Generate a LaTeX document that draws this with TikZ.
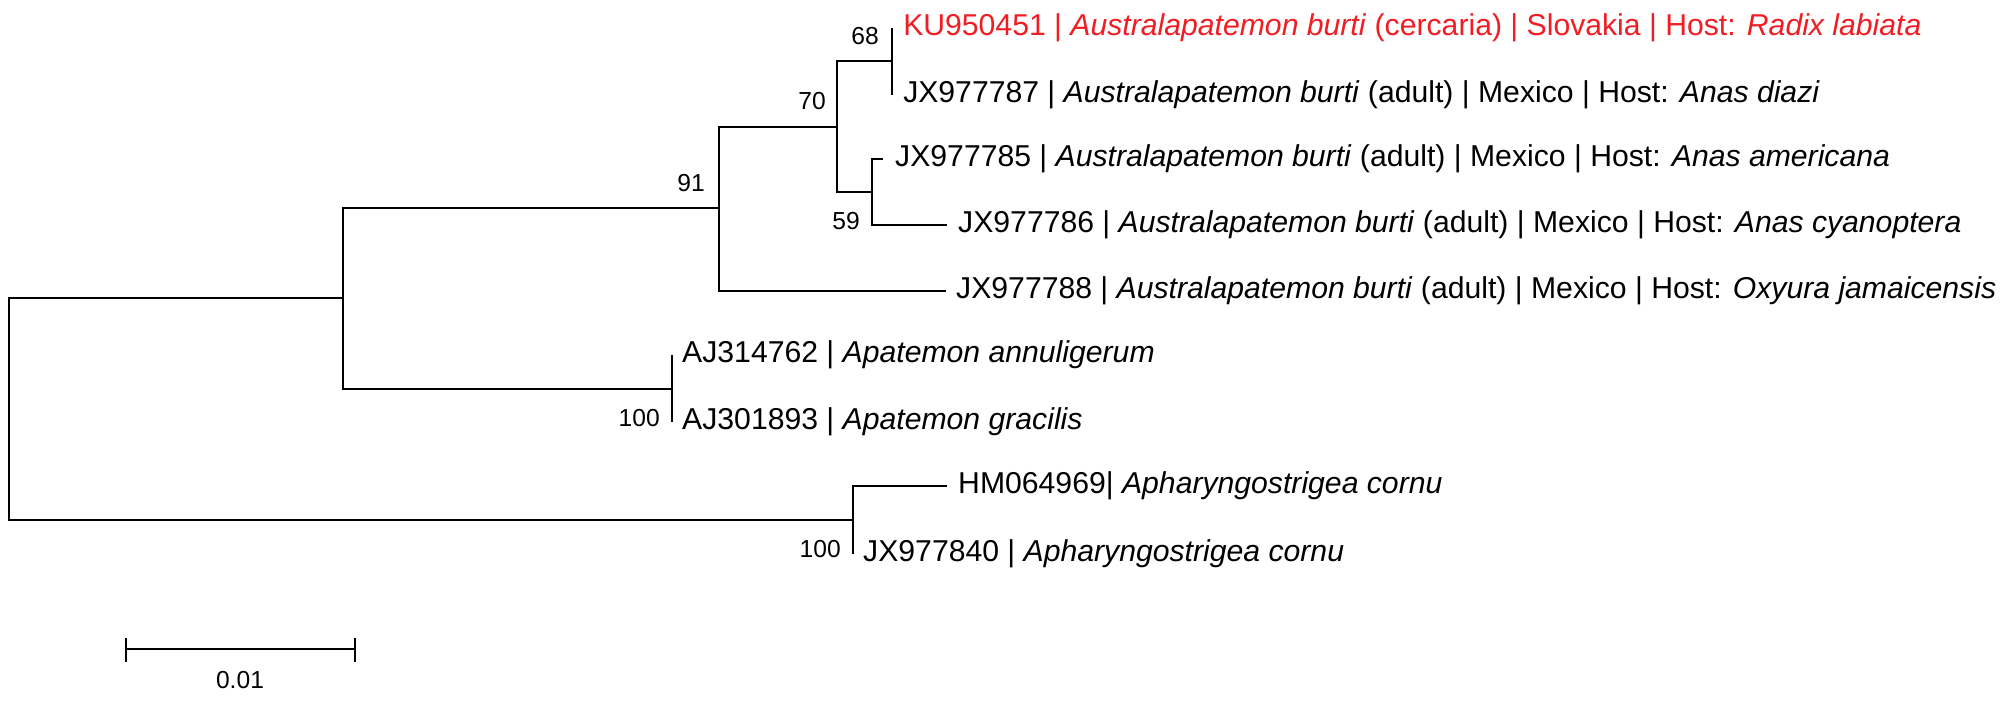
\documentclass[tikz,border=0pt]{standalone}
\usepackage{fontspec}
\setmainfont{Liberation Sans}
\usetikzlibrary{positioning}
\definecolor{queryred}{RGB}{240,30,36}

\begin{document}
\begin{tikzpicture}[x=0.01cm, y=-0.01cm, line width=0.7pt,
  leaf/.style={font=\fontsize{8.58}{10}\selectfont, inner sep=0pt},
  boot/.style={font=\fontsize{7}{8}\selectfont, inner sep=0pt}]
\useasboundingbox (0,0) rectangle (2006,703);

% Internal nodes (junction points)
\coordinate (root)  at (9,400);
\coordinate (nA)    at (343,298);
\coordinate (n91)   at (719,208);
\coordinate (n70)   at (837,127);
\coordinate (n68)   at (892,61);
\coordinate (n59)   at (872,192);
\coordinate (n100a) at (672,389);
\coordinate (n100b) at (853,520);

% Tips
\coordinate (t1) at (892,28);
\coordinate (t2) at (892,95);
\coordinate (t3) at (883,159);
\coordinate (t4) at (947,225);
\coordinate (t5) at (946,291);
\coordinate (t6) at (672,355);
\coordinate (t7) at (672,422);
\coordinate (t8) at (947,486);
\coordinate (t9) at (853,554);

% Branches
\draw (root) |- (nA);
\draw (root) |- (n100b);
\draw (nA) |- (n91);
\draw (nA) |- (n100a);
\draw (n91) |- (n70);
\draw (n91) |- (t5);
\draw (n70) |- (n68);
\draw (n70) |- (n59);
\draw (n68) |- (t1);
\draw (n68) |- (t2);
\draw (n59) |- (t3);
\draw (n59) |- (t4);
\draw (n100a) |- (t6);
\draw (n100a) |- (t7);
\draw (n100b) |- (t8);
\draw (n100b) |- (t9);

% Taxon labels
\node[leaf, queryred, right=0.1cm of t1] (ku950451)
  {KU950451 | \textit{Australapatemon burti} (cercaria) | Slovakia | Host: \textit{Radix labiata}};
\node[leaf, right=0.1cm of t2] (jx977787)
  {JX977787 | \textit{Australapatemon burti} (adult) | Mexico | Host: \textit{Anas diazi}};
\node[leaf, right=0.11cm of t3] (jx977785)
  {JX977785 | \textit{Australapatemon burti} (adult) | Mexico | Host: \textit{Anas americana}};
\node[leaf, right=0.1cm of t4] (jx977786)
  {JX977786 | \textit{Australapatemon burti} (adult) | Mexico | Host: \textit{Anas cyanoptera}};
\node[leaf, right=0.09cm of t5] (jx977788)
  {JX977788 | \textit{Australapatemon burti} (adult) | Mexico | Host: \textit{Oxyura jamaicensis}};
\node[leaf, right=0.09cm of t6] (aj314762)
  {AJ314762 | \textit{Apatemon annuligerum}};
\node[leaf, right=0.09cm of t7] (aj301893)
  {AJ301893 | \textit{Apatemon gracilis}};
\node[leaf, right=0.1cm of t8] (hm064969)
  {HM064969| \textit{Apharyngostrigea cornu}};
\node[leaf, right=0.09cm of t9] (jx977840)
  {JX977840 | \textit{Apharyngostrigea cornu}};

% Bootstrap values
\node[boot, above left=0.15cm and 0.12cm of n68] (b68) {68};
\node[boot, above left=0.16cm and 0.10cm of n70] (b70) {70};
\node[boot, above left=0.15cm and 0.13cm of n91] (b91) {91};
\node[boot, below left=0.19cm and 0.11cm of n59] (b59) {59};
\node[boot, below left=0.19cm and 0.11cm of n100a] (b100a) {100};
\node[boot, below left=0.19cm and 0.11cm of n100b] (b100b) {100};

% Scale bar
\coordinate (sbL) at (126,649);
\coordinate (sbR) at (355,649);
\coordinate (sbM) at (240,649);
\draw (sbL) -- (sbR);
\draw (sbL) ++(0,-11) -- ++(0,24);
\draw (sbR) ++(0,-11) -- ++(0,24);
\node[boot, below=0.21cm of sbM] (sblabel) {0.01};
\end{tikzpicture}
\end{document}
